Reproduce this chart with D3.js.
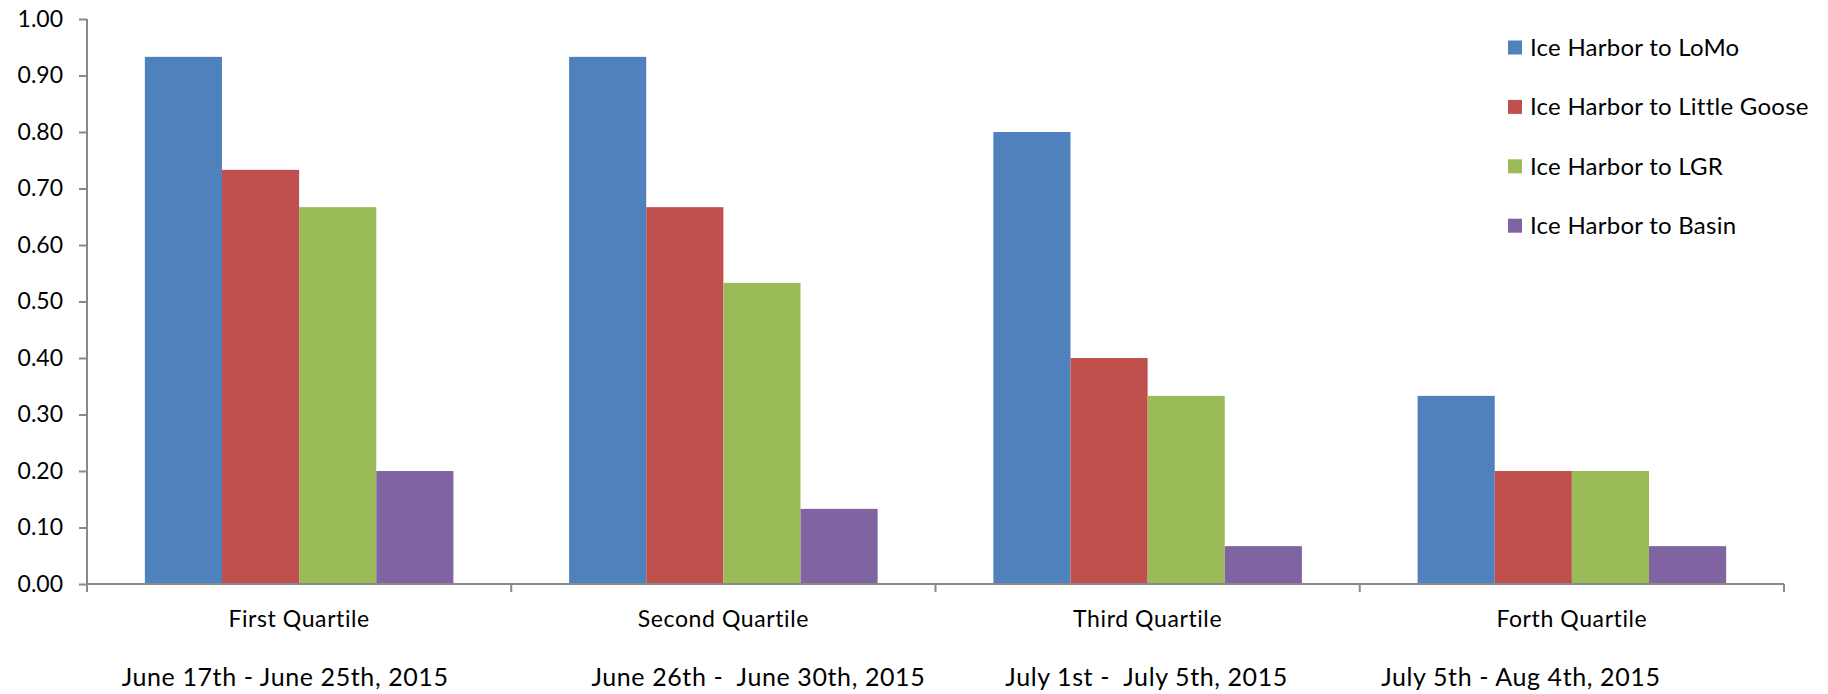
<!DOCTYPE html>
<html>
<head>
<meta charset="utf-8">
<script src="https://cdn.jsdelivr.net/npm/d3@7"></script>
<style>
  html, body { margin: 0; padding: 0; background: #fff; }
  svg { display: block; font-family: Lato, "Open Sans", sans-serif; font-variant-ligatures: none; }
  text { white-space: pre; }
</style>
</head>
<body>
<svg id="chart" width="1828" height="694"></svg>
<script>
// ---- data ----
const categories = ["First Quartile", "Second Quartile", "Third Quartile", "Forth Quartile"];
const dateLabels = ["June 17th - June 25th, 2015", "June 26th -  June 30th, 2015", "July 1st -  July 5th, 2015", "July 5th - Aug 4th, 2015"];
const seriesNames = ["Ice Harbor to LoMo", "Ice Harbor to Little Goose", "Ice Harbor to LGR", "Ice Harbor to Basin"];
const lomo   = [0.933, 0.933, 0.800, 0.333];
const goose  = [0.733, 0.667, 0.400, 0.200];
const lgr    = [0.667, 0.533, 0.333, 0.200];
const basin  = [0.200, 0.133, 0.067, 0.067];
const yTicks = [0, 0.1, 0.2, 0.3, 0.4, 0.5, 0.6, 0.7, 0.8, 0.9, 1.0];
const colors = ["#4F81BD", "#C0504D", "#9BBB59", "#8064A2"];

// ---- layout (not data) ----
const dateOffsets = [-14, 35, -1, -51];
const plot = { left: 87, right: 1784, top: 19, bottom: 584 };

const seriesValues = [lomo, goose, lgr, basin];
const svg = d3.select("#chart");

const x0 = d3.scaleBand().domain(categories).range([plot.left, plot.right]).padding(0);
const B = x0.bandwidth();
const groupW = B * 4 / 5.5;
const x1 = d3.scaleBand().domain(seriesNames).range([(B - groupW) / 2, (B + groupW) / 2]).padding(0);
const y = d3.scaleLinear().domain([0, 1]).range([plot.bottom, plot.top]);

// bars
const groups = svg.append("g").selectAll("g").data(categories).join("g")
  .attr("transform", d => `translate(${x0(d)},0)`);
groups.selectAll("rect")
  .data((c, ci) => seriesNames.map((s, si) => ({ s, si, v: seriesValues[si][ci] })))
  .join("rect")
  .attr("x", d => x1(d.s))
  .attr("width", x1.bandwidth())
  .attr("y", d => y(d.v))
  .attr("height", d => y(0) - y(d.v))
  .attr("fill", d => colors[d.si]);

const axisColor = "#898989";

// y axis
const yAxis = svg.append("g").attr("transform", `translate(${plot.left},0)`)
  .call(d3.axisLeft(y).tickValues(yTicks).tickFormat(d3.format(".2f")).tickSize(8).tickPadding(16));
yAxis.select(".domain").attr("stroke", axisColor).attr("stroke-width", 2)
  .attr("d", `M0,${plot.top}V${plot.bottom + 8}`);
yAxis.selectAll(".tick line").attr("stroke", axisColor).attr("stroke-width", 2);
yAxis.selectAll(".tick text").attr("fill", "#000").style("font-size", "23px")
  .style("font-family", "Lato, sans-serif");

// x axis line + boundary ticks
const xAxisG = svg.append("g");
xAxisG.append("line").attr("x1", plot.left).attr("x2", plot.right)
  .attr("y1", y(0)).attr("y2", y(0)).attr("stroke", axisColor).attr("stroke-width", 2);
const boundaries = categories.map(c => x0(c)).concat([x0(categories[categories.length - 1]) + B]);
xAxisG.selectAll("line.tk").data(boundaries).join("line").attr("class", "tk")
  .attr("x1", d => d).attr("x2", d => d)
  .attr("y1", y(0)).attr("y2", y(0) + 8)
  .attr("stroke", axisColor).attr("stroke-width", 2);

// category labels
svg.append("g").selectAll("text").data(categories).join("text")
  .attr("x", d => x0(d) + B / 2)
  .attr("y", 627)
  .attr("text-anchor", "middle")
  .style("font-size", "23px")
  .style("letter-spacing", "0.6px")
  .attr("fill", "#000")
  .text(d => d);

// date labels
svg.append("g").selectAll("text").data(dateLabels).join("text")
  .attr("x", (d, i) => x0(categories[i]) + B / 2 + dateOffsets[i])
  .attr("y", 686)
  .attr("text-anchor", "middle")
  .style("font-size", "25px")
  .style("letter-spacing", "0.6px")
  .attr("fill", "#000")
  .text(d => d);

// legend
const legend = svg.append("g").attr("transform", "translate(1508,0)");
const lg = legend.selectAll("g").data(seriesNames).join("g")
  .attr("transform", (d, i) => `translate(0,${47.5 + i * 59.4})`);
lg.append("rect").attr("x", 0).attr("y", -7).attr("width", 14).attr("height", 14)
  .attr("fill", (d, i) => colors[i]);
lg.append("text").attr("x", 22).attr("y", 0).attr("dy", "0.35em")
  .style("font-size", "24px").style("letter-spacing", "0.25px")
  .attr("fill", "#000").text(d => d);
</script>
</body>
</html>
